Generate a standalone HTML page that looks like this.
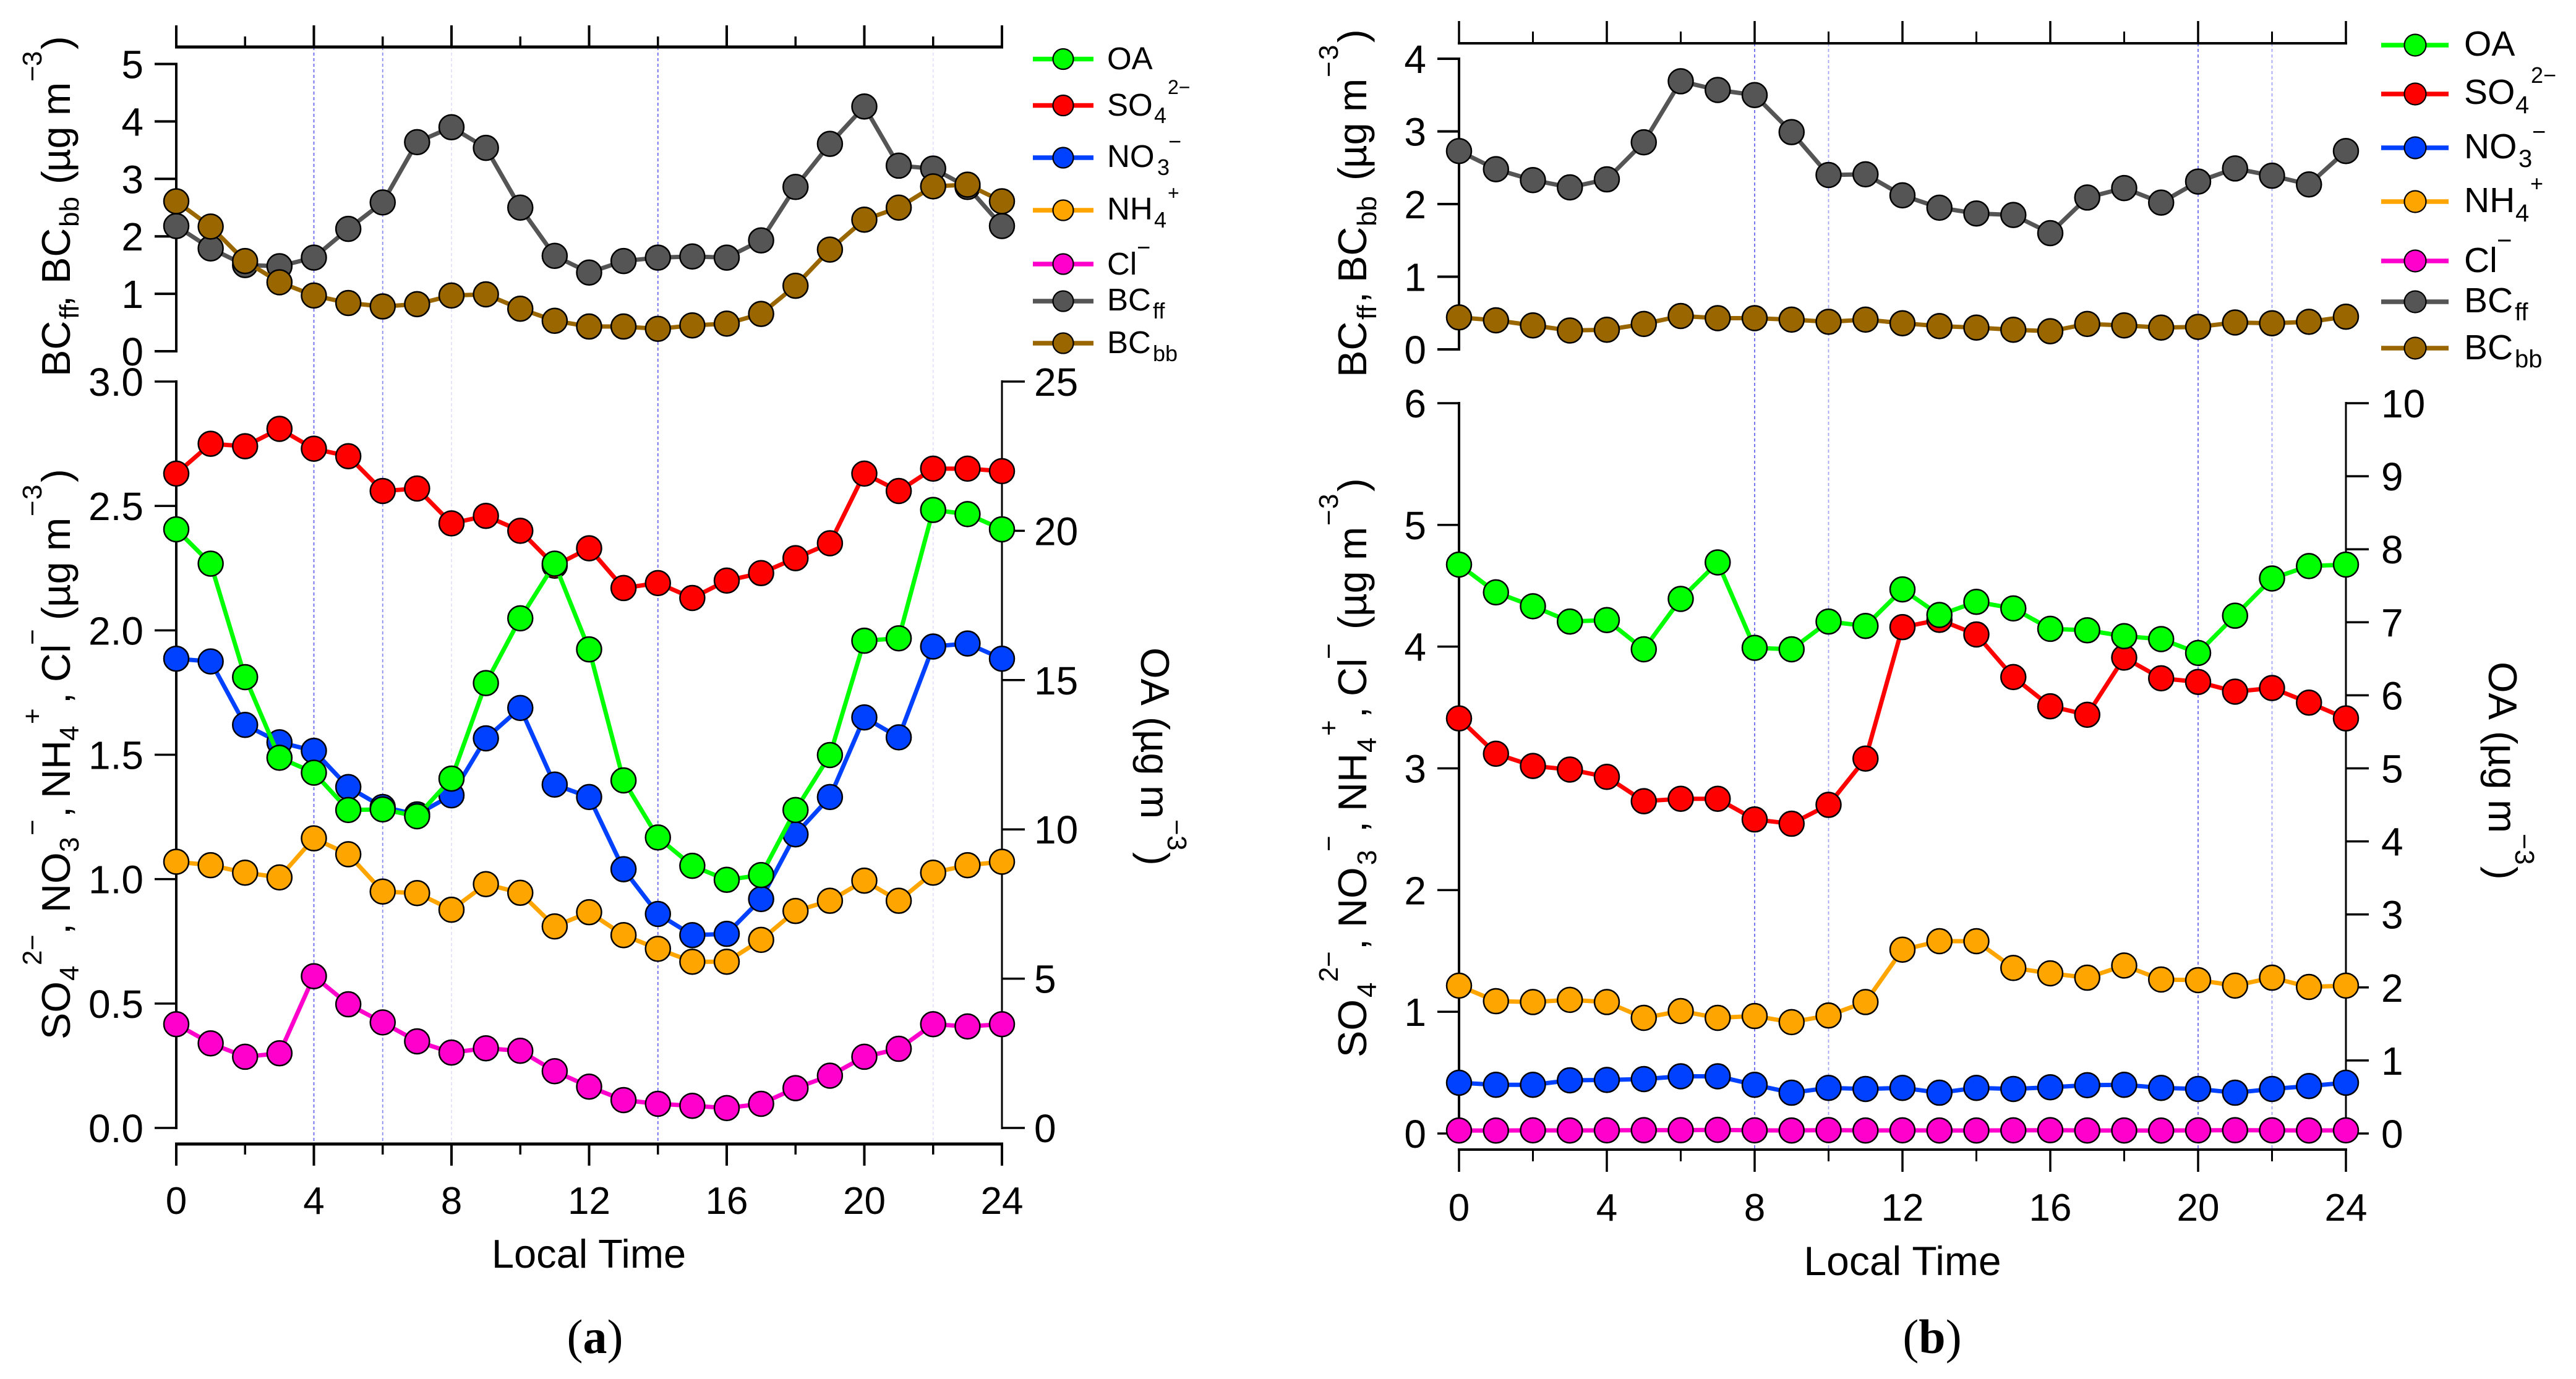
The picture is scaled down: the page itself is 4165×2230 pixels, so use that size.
<!DOCTYPE html>
<html>
<head>
<meta charset="utf-8">
<title>Diurnal aerosol composition</title>
<style>
html,body{margin:0;padding:0;background:#fff;}
svg{display:block;}
text{font-family:"Liberation Sans",sans-serif;fill:#000;}
.sm{font-size:44px;}
.cap{font-family:"Liberation Serif",serif;font-size:78px;}
</style>
</head>
<body>
<svg id="chart" xmlns="http://www.w3.org/2000/svg" width="4165" height="2230" viewBox="0 0 4165 2230">
<g id="panels"></g>

<!-- Panel (a) axis titles -->
<text transform="translate(113,0) rotate(-90)" font-size="65"><tspan x="-609">BC</tspan><tspan class="sm" x="-516" y="14">ff</tspan><tspan x="-496" y="0">,</tspan><tspan x="-459" y="0">BC</tspan><tspan class="sm" x="-367" y="14">bb</tspan><tspan x="-298" y="0">(</tspan><tspan x="-278" y="0">µg</tspan><tspan x="-187" y="0">m</tspan><tspan class="sm" x="-132" y="-46">−</tspan><tspan class="sm" x="-107" y="-46">3</tspan><tspan x="-80" y="0">)</tspan></text>
<text transform="translate(113,0) rotate(-90)" font-size="65"><tspan x="-1681">SO</tspan><tspan class="sm" x="-1586" y="14">4</tspan><tspan class="sm" x="-1561" y="-46">2</tspan><tspan class="sm" x="-1537" y="-46">−</tspan><tspan x="-1511" y="0">,</tspan><tspan x="-1476" y="0">NO</tspan><tspan class="sm" x="-1378" y="14">3</tspan><tspan class="sm" x="-1351" y="-46">−</tspan><tspan x="-1322" y="0">,</tspan><tspan x="-1291" y="0">NH</tspan><tspan class="sm" x="-1198" y="14">4</tspan><tspan class="sm" x="-1171" y="-46">+</tspan><tspan x="-1138" y="0">,</tspan><tspan x="-1103" y="0">Cl</tspan><tspan class="sm" x="-1043" y="-46">−</tspan><tspan x="-1003" y="0">(</tspan><tspan x="-982" y="0">µg</tspan><tspan x="-891" y="0">m</tspan><tspan class="sm" x="-835" y="-46">−</tspan><tspan class="sm" x="-808" y="-46">3</tspan><tspan x="-780" y="0">)</tspan></text>
<text transform="translate(1845,0) rotate(90)" font-size="65"><tspan x="1047">OA</tspan><tspan x="1159">(</tspan><tspan x="1180">µg</tspan><tspan x="1270">m</tspan><tspan class="sm" x="1325" y="-43">−</tspan><tspan class="sm" x="1351" y="-43">3</tspan><tspan x="1378" y="0">)</tspan></text>
<text x="952" y="2050" font-size="65" text-anchor="middle">Local Time</text>
<text class="cap" x="962" y="2188" text-anchor="middle">(<tspan font-weight="bold">a</tspan>)</text>

<!-- Panel (b) axis titles -->
<text transform="translate(2209,0) rotate(-90)" font-size="65"><tspan x="-610">BC</tspan><tspan class="sm" x="-517" y="16">ff</tspan><tspan x="-490" y="0">,</tspan><tspan x="-457" y="0">BC</tspan><tspan class="sm" x="-366" y="16">bb</tspan><tspan x="-292" y="0">(</tspan><tspan x="-272" y="0">µg</tspan><tspan x="-181" y="0">m</tspan><tspan class="sm" x="-125" y="-46">−</tspan><tspan class="sm" x="-97" y="-46">3</tspan><tspan x="-69" y="0">)</tspan></text>
<text transform="translate(2209,0) rotate(-90)" font-size="65"><tspan x="-1710">SO</tspan><tspan class="sm" x="-1613" y="16">4</tspan><tspan class="sm" x="-1588" y="-46">2</tspan><tspan class="sm" x="-1564" y="-46">−</tspan><tspan x="-1536" y="0">,</tspan><tspan x="-1500" y="0">NO</tspan><tspan class="sm" x="-1399" y="16">3</tspan><tspan class="sm" x="-1377" y="-46">−</tspan><tspan x="-1346" y="0">,</tspan><tspan x="-1312" y="0">NH</tspan><tspan class="sm" x="-1217" y="16">4</tspan><tspan class="sm" x="-1190" y="-46">+</tspan><tspan x="-1161" y="0">,</tspan><tspan x="-1126" y="0">Cl</tspan><tspan class="sm" x="-1066" y="-46">−</tspan><tspan x="-1018" y="0">(</tspan><tspan x="-997" y="0">µg</tspan><tspan x="-906" y="0">m</tspan><tspan class="sm" x="-850" y="-46">−</tspan><tspan class="sm" x="-823" y="-46">3</tspan><tspan x="-795" y="0">)</tspan></text>
<text transform="translate(4024,0) rotate(90)" font-size="65"><tspan x="1070">OA</tspan><tspan x="1182">(</tspan><tspan x="1203">µg</tspan><tspan x="1293">m</tspan><tspan class="sm" x="1348" y="-43">−</tspan><tspan class="sm" x="1374" y="-43">3</tspan><tspan x="1401" y="0">)</tspan></text>
<text x="3076" y="2062" font-size="66" text-anchor="middle">Local Time</text>
<text class="cap" x="3124" y="2188" text-anchor="middle">(<tspan font-weight="bold">b</tspan>)</text>

<!-- Legend (a) text -->
<g font-size="51">
<text x="1790" y="112">OA</text>
<text x="1790" y="187">SO<tspan font-size="36" x="1866" y="199">4</tspan><tspan font-size="32" x="1888" y="152">2−</tspan></text>
<text x="1790" y="270">NO<tspan font-size="36" x="1871" y="283">3</tspan><tspan font-size="36" x="1889" y="241">−</tspan></text>
<text x="1790" y="355">NH<tspan font-size="36" x="1866" y="368">4</tspan><tspan font-size="32" x="1888" y="323">+</tspan></text>
<text x="1790" y="444">Cl<tspan font-size="38" x="1838" y="413">−</tspan></text>
<text x="1790" y="502">BC<tspan font-size="36" x="1864" y="515">ff</tspan></text>
<text x="1790" y="571">BC<tspan font-size="36" x="1864" y="584">bb</tspan></text>
</g>
<!-- Legend (b) text -->
<g font-size="57">
<text x="3984" y="90">OA</text>
<text x="3984" y="168">SO<tspan font-size="40" x="4067" y="183">4</tspan><tspan font-size="36" x="4092" y="134">2−</tspan></text>
<text x="3984" y="256">NO<tspan font-size="40" x="4072" y="270">3</tspan><tspan font-size="38" x="4094" y="226">−</tspan></text>
<text x="3984" y="343">NH<tspan font-size="40" x="4067" y="358">4</tspan><tspan font-size="36" x="4091" y="309">+</tspan></text>
<text x="3984" y="440">Cl<tspan font-size="42" x="4037" y="403">−</tspan></text>
<text x="3984" y="505">BC<tspan font-size="40" x="4066" y="518">ff</tspan></text>
<text x="3984" y="581">BC<tspan font-size="40" x="4066" y="594">bb</tspan></text>
</g>
</svg>

<script>
// categories
const hours = [0,1,2,3,4,5,6,7,8,9,10,11,12,13,14,15,16,17,18,19,20,21,22,23,24];
const hourTicks = [0,2,4,6,8,10,12,14,16,18,20,22,24];
const hourLabels = [0,4,8,12,16,20,24];

// panel (a) series
const aBCff = [2.18,1.79,1.50,1.48,1.63,2.13,2.59,3.64,3.90,3.54,2.50,1.66,1.37,1.57,1.63,1.65,1.63,1.93,2.86,3.61,4.26,3.23,3.18,2.86,2.18];
const aBCbb = [2.61,2.17,1.57,1.20,0.97,0.84,0.78,0.82,0.97,0.99,0.74,0.53,0.43,0.43,0.39,0.45,0.48,0.65,1.14,1.77,2.29,2.50,2.87,2.90,2.61];
const aSO4 = [2.63,2.75,2.74,2.81,2.73,2.70,2.56,2.57,2.43,2.46,2.40,2.26,2.33,2.17,2.19,2.13,2.20,2.23,2.29,2.35,2.63,2.56,2.65,2.65,2.64];
const aNO3 = [1.886,1.875,1.62,1.55,1.516,1.37,1.29,1.26,1.337,1.566,1.688,1.38,1.33,1.04,0.86,0.775,0.78,0.92,1.18,1.33,1.65,1.57,1.935,1.947,1.886];
const aNH4 = [1.07,1.056,1.026,1.007,1.164,1.10,0.95,0.944,0.877,0.98,0.945,0.81,0.867,0.775,0.72,0.668,0.668,0.756,0.872,0.913,0.994,0.913,1.026,1.056,1.07];
const aCl = [0.417,0.34,0.286,0.30,0.61,0.497,0.424,0.348,0.303,0.32,0.31,0.228,0.166,0.112,0.097,0.089,0.08,0.097,0.16,0.21,0.286,0.318,0.417,0.408,0.417];
const aOA = [20.05,18.9,15.1,12.4,11.9,10.65,10.67,10.44,11.7,14.9,17.07,18.9,16.03,11.64,9.73,8.78,8.31,8.47,10.65,12.49,16.32,16.4,20.7,20.56,20.05];

// panel (b) series
const bBCff = [2.73,2.48,2.33,2.23,2.34,2.85,3.69,3.57,3.50,2.99,2.40,2.41,2.12,1.95,1.87,1.85,1.60,2.09,2.22,2.02,2.31,2.49,2.39,2.27,2.73];
const bBCbb = [0.44,0.40,0.33,0.26,0.27,0.35,0.46,0.43,0.43,0.41,0.38,0.41,0.36,0.32,0.30,0.27,0.25,0.35,0.33,0.30,0.31,0.37,0.36,0.38,0.45];
const bSO4 = [3.41,3.12,3.02,2.99,2.93,2.73,2.75,2.75,2.58,2.545,2.70,3.08,4.16,4.22,4.10,3.75,3.51,3.44,3.91,3.74,3.71,3.63,3.66,3.54,3.41];
const bNO3 = [0.417,0.40,0.40,0.437,0.44,0.447,0.47,0.47,0.40,0.335,0.375,0.366,0.375,0.335,0.375,0.366,0.38,0.397,0.40,0.375,0.366,0.335,0.366,0.39,0.417];
const bNH4 = [1.215,1.087,1.08,1.098,1.08,0.95,1.006,0.95,0.965,0.915,0.97,1.08,1.51,1.58,1.58,1.36,1.316,1.28,1.38,1.265,1.26,1.215,1.28,1.204,1.215];
const bCl = [0.025,0.024,0.026,0.025,0.026,0.027,0.027,0.03,0.026,0.025,0.028,0.025,0.026,0.025,0.025,0.026,0.027,0.025,0.025,0.024,0.026,0.027,0.026,0.025,0.026];
const bOA = [7.79,7.41,7.22,7.01,7.03,6.63,7.32,7.82,6.65,6.63,7.01,6.95,7.45,7.10,7.28,7.19,6.91,6.89,6.81,6.77,6.58,7.09,7.60,7.77,7.79];

// tick labels
const aTopTicks = ["0","1","2","3","4","5"];
const aLeftTicks = ["0.0","0.5","1.0","1.5","2.0","2.5","3.0"];
const aRightTicks = ["0","5","10","15","20","25"];
const bTopTicks = ["0","1","2","3","4"];
const bLeftTicks = ["0","1","2","3","4","5","6"];
const bRightTicks = ["0","1","2","3","4","5","6","7","8","9","10"];

// series styling
const colorOA = "#00ff00", colorSO4 = "#ff0000", colorNO3 = "#0040ff", colorNH4 = "#ffa500", colorCl = "#ff00cc", colorBCff = "#555555", colorBCbb = "#996600";

const NS = "http://www.w3.org/2000/svg";
const root = document.getElementById("panels");

function scale(d0, d1, p0, p1) {
  return function (v) { return p0 + (v - d0) * (p1 - p0) / (d1 - d0); };
}
function el(parent, tag, attrs) {
  const e = document.createElementNS(NS, tag);
  for (const k in attrs) e.setAttribute(k, attrs[k]);
  parent.appendChild(e);
  return e;
}
function group(parent, name) {
  const g = document.createElementNS(NS, "g");
  
  
  parent.appendChild(g);
  return g;
}
function hline(g, name, x1, x2, y, w) {
  const l = el(g, "line", {x1: x1, x2: x2, y1: y, y2: y, stroke: "#000", "stroke-width": w});
  
  
}
function vline(g, name, x, y1, y2, w) {
  const l = el(g, "line", {x1: x, x2: x, y1: y1, y2: y2, stroke: "#000", "stroke-width": w});
  
  
}
function label(g, name, x, y, s, size, anchor) {
  const t = el(g, "text", {x: x, y: y, "font-size": size, "text-anchor": anchor});
  t.textContent = s;
  
  
}
function drawSeries(parent, name, xs, vals, X, Y, color, w, r) {
  const g = group(parent, name + "-series");
  const pts = vals.map(function (v, i) { return X(xs[i]) + "," + Y(v); }).join(" ");
  const line = el(g, "polyline", {points: pts, fill: "none", stroke: color, "stroke-width": w, "stroke-linejoin": "round"});
  
  
  vals.forEach(function (v, i) {
    const c = el(g, "circle", {cx: X(xs[i]), cy: Y(v), r: r, fill: color, stroke: "#000", "stroke-width": 2.5});
    
    
  });
}
function legendEntry(parent, name, x1, x2, cx, y, color, w, r) {
  const g = group(parent, name);
  el(g, "line", {x1: x1, x2: x2, y1: y, y2: y, stroke: color, "stroke-width": w});
  el(g, "circle", {cx: cx, cy: y, r: r, fill: color, stroke: "#000", "stroke-width": 2.2});
}

function drawPanel(p) {
  const g = group(root, p.id + "-panel");
  const X = scale(0, 24, p.x0, p.x1);
  const YTop = scale(0, p.topMax, p.topY0, p.topY1);
  const YLeft = scale(0, p.leftMax, p.lowY0, p.lowY1);
  const YRight = scale(0, p.rightMax, p.lowY0, p.lowY1);

  // guides
  const guides = group(g, p.id + "-guide-lines");
  p.guides.forEach(function (gd) {
    const l = el(guides, "line", {x1: X(gd[0]), x2: X(gd[0]), y1: p.topAxisY, y2: p.botAxisY, stroke: gd[1], "stroke-width": 1.8, "stroke-dasharray": "5 4"});
    
    
  });

  // top x axis
  const top = group(g, p.id + "-top-x-axis");
  hline(top, p.id + "-top-axis-line", p.x0 - 2, p.x1 + 2, p.topAxisY, p.xAxisW);
  hourTicks.forEach(function (h) {
    const major = h % 4 === 0;
    vline(top, p.id + "-top-axis-tick", X(h), p.topAxisY - (major ? p.majorLen : p.minorLen), p.topAxisY, major ? p.tickW : p.tickW - 0.5);
  });

  // bottom x axis
  const bot = group(g, p.id + "-bottom-x-axis");
  hline(bot, p.id + "-bottom-axis-line", p.x0 - 2, p.x1 + 2, p.botAxisY, p.xAxisW);
  hourTicks.forEach(function (h) {
    const major = h % 4 === 0;
    vline(bot, p.id + "-bottom-axis-tick", X(h), p.botAxisY, p.botAxisY + (major ? p.majorLen : p.minorLen), major ? p.tickW : p.tickW - 0.5);
  });
  hourLabels.forEach(function (h) {
    label(bot, p.id + "-x-tick-label", X(h), p.xLabelY, String(h), 62, "middle");
  });

  // top-panel y axis
  const ty = group(g, p.id + "-bc-y-axis");
  vline(ty, p.id + "-bc-axis-line", p.x0, p.topY1 - 2, p.topY0 + 2, 4);
  p.topTicks.forEach(function (s) {
    hline(ty, p.id + "-bc-axis-tick", p.x0 - 35, p.x0, YTop(Number(s)), 4);
    label(ty, p.id + "-bc-tick-label", p.x0 - 53, YTop(Number(s)) + 23, s, 64, "end");
  });

  // lower-panel left y axis
  const ly = group(g, p.id + "-ions-y-axis");
  vline(ly, p.id + "-ions-axis-line", p.x0, p.lowY1 - 2, p.lowY0 + 2, 4);
  p.leftTicks.forEach(function (s) {
    hline(ly, p.id + "-ions-axis-tick", p.x0 - 35, p.x0, YLeft(Number(s)), 3.5);
    label(ly, p.id + "-ions-tick-label", p.x0 - 53, YLeft(Number(s)) + 23, s, 64, "end");
  });

  // lower-panel right y axis
  const ry = group(g, p.id + "-oa-y-axis");
  vline(ry, p.id + "-oa-axis-line", p.x1, p.lowY1 - 2, p.lowY0 + 2, 3);
  p.rightTicks.forEach(function (s) {
    hline(ry, p.id + "-oa-axis-tick", p.x1, p.x1 + 37, YRight(Number(s)), 3.5);
    label(ry, p.id + "-oa-tick-label", p.x1 + p.rightLabelDx, YRight(Number(s)) + 23, s, 64, "start");
  });

  // series
  const R = 20, W = 7;
  drawSeries(g, p.id + "-bcff", hours, p.bcff, X, YTop, colorBCff, W, R);
  drawSeries(g, p.id + "-bcbb", hours, p.bcbb, X, YTop, colorBCbb, W, R);
  drawSeries(g, p.id + "-so4", hours, p.so4, X, YLeft, colorSO4, W, R);
  drawSeries(g, p.id + "-no3", hours, p.no3, X, YLeft, colorNO3, W, R);
  drawSeries(g, p.id + "-nh4", hours, p.nh4, X, YLeft, colorNH4, W, R);
  drawSeries(g, p.id + "-cl", hours, p.cl, X, YLeft, colorCl, W, R);
  drawSeries(g, p.id + "-oa", hours, p.oa, X, YRight, colorOA, W, R);

  // legend swatches
  const lg = group(g, p.id + "-legend");
  const L = p.legend;
  legendEntry(lg, p.id + "-legend-entry-oa", L.x1, L.x2, L.cx, L.y[0], colorOA, 7.5, L.r);
  legendEntry(lg, p.id + "-legend-entry-so4", L.x1, L.x2, L.cx, L.y[1], colorSO4, 7.5, L.r);
  legendEntry(lg, p.id + "-legend-entry-no3", L.x1, L.x2, L.cx, L.y[2], colorNO3, 7.5, L.r);
  legendEntry(lg, p.id + "-legend-entry-nh4", L.x1, L.x2, L.cx, L.y[3], colorNH4, 7.5, L.r);
  legendEntry(lg, p.id + "-legend-entry-cl", L.x1, L.x2, L.cx, L.y[4], colorCl, 7.5, L.r);
  legendEntry(lg, p.id + "-legend-entry-bcff", L.x1, L.x2, L.cx, L.y[5], colorBCff, 7.5, L.r);
  legendEntry(lg, p.id + "-legend-entry-bcbb", L.x1, L.x2, L.cx, L.y[6], colorBCbb, 7.5, L.r);
}

drawPanel({
  id: "a", x0: 285, x1: 1620,
  topAxisY: 76, botAxisY: 1850, majorLen: 35, minorLen: 17, xAxisW: 5, tickW: 4, xLabelY: 1963,
  topMax: 5, topY0: 568, topY1: 103.5,
  leftMax: 3, rightMax: 25, lowY0: 1824, lowY1: 617, rightLabelDx: 52,
  topTicks: aTopTicks, leftTicks: aLeftTicks, rightTicks: aRightTicks,
  guides: [[4,"#6a6af0"],[6,"#8a8af5"],[8,"#e2e2fb"],[14,"#6a6af0"],[22,"#e2e2fb"]],
  bcff: aBCff, bcbb: aBCbb, so4: aSO4, no3: aNO3, nh4: aNH4, cl: aCl, oa: aOA,
  legend: {x1: 1670, x2: 1768, cx: 1719, r: 16.5, y: [95.5,170.5,255,340,427,487,555]}
});
drawPanel({
  id: "b", x0: 2359, x1: 3793,
  topAxisY: 70, botAxisY: 1859, majorLen: 36, minorLen: 19, xAxisW: 4, tickW: 3.5, xLabelY: 1974,
  topMax: 4, topY0: 565, topY1: 95,
  leftMax: 6, rightMax: 10, lowY0: 1833, lowY1: 652, rightLabelDx: 57,
  topTicks: bTopTicks, leftTicks: bLeftTicks, rightTicks: bRightTicks,
  guides: [[8,"#6a6af0"],[10,"#a5a5f8"],[20,"#6a6af0"],[22,"#a5a5f8"]],
  bcff: bBCff, bcbb: bBCbb, so4: bSO4, no3: bNO3, nh4: bNH4, cl: bCl, oa: bOA,
  legend: {x1: 3850, x2: 3959, cx: 3905, r: 17.5, y: [73,152,239,326,422,488,563]}
});
</script>
</body>
</html>
